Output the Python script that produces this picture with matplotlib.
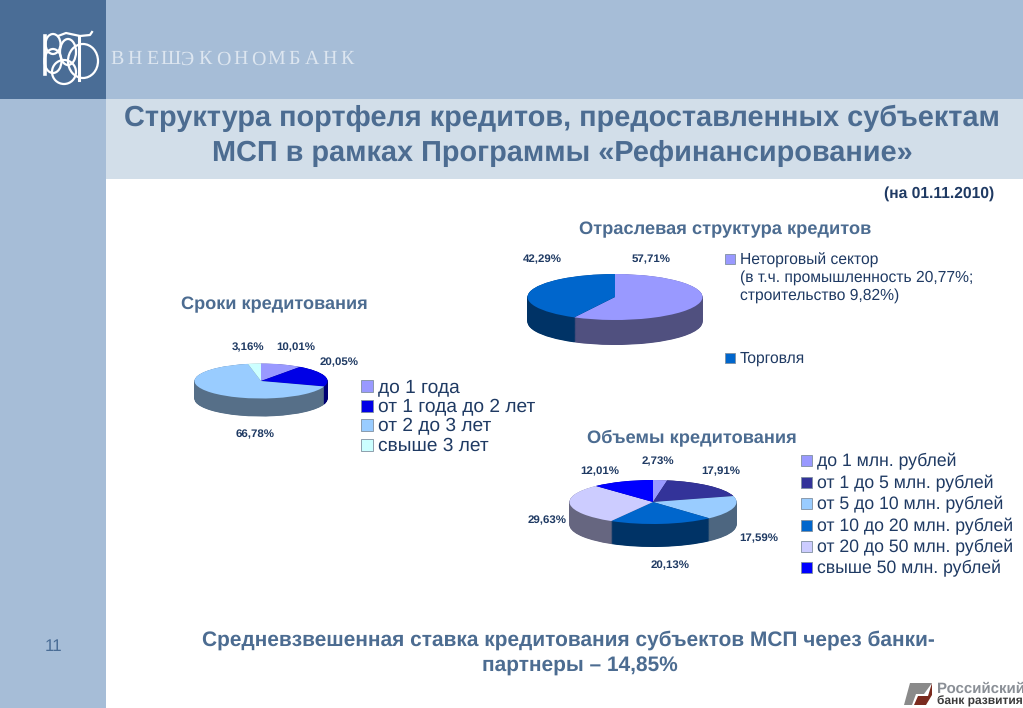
import numpy as np
import matplotlib
matplotlib.use('Agg')
from matplotlib import pyplot as plt
from matplotlib.patches import Rectangle, Ellipse, Polygon

plt.rcParams['font.family'] = ['Liberation Sans', 'DejaVu Sans']
plt.rcParams['text.hinting'] = 'no_hinting'

W = 1023
H = 708
PX = 0.72  # font px -> pt at dpi 100

# data
term_labels = ['до 1 года', 'от 1 года до 2 лет', 'от 2 до 3 лет', 'свыше 3 лет']
term_values = [10.01, 20.05, 66.78, 3.16]
term_text = ['10,01%', '20,05%', '66,78%', '3,16%']
term_top = ['#9999FF', '#0000E6', '#99CCFF', '#CCFFFF']
term_side = ['#4D4D80', '#000073', '#566F88', '#668080']

sector_labels = ['Неторговый сектор', 'Торговля']
sector_note = ['(в т.ч. промышленность 20,77%;', 'строительство 9,82%)']
sector_values = [57.71, 42.29]
sector_text = ['57,71%', '42,29%']
sector_top = ['#9999FF', '#0066CC']
sector_side = ['#50507F', '#003366']

size_labels = ['до 1 млн. рублей', 'от 1 до 5 млн. рублей', 'от 5 до 10 млн. рублей',
               'от 10 до 20 млн. рублей', 'от 20 до 50 млн. рублей', 'свыше 50 млн. рублей']
size_values = [2.73, 17.91, 17.59, 20.13, 29.63, 12.01]
size_text = ['2,73%', '17,91%', '17,59%', '20,13%', '29,63%', '12,01%']
size_top = ['#9999FF', '#333399', '#99CCFF', '#0066CC', '#CCCCFF', '#0000FF']
size_side = ['#4D4D80', '#1A1A4D', '#4D6680', '#003366', '#666680', '#000080']

BAND = '#A6BDD7'
DARK = '#4A6D96'
TITLE = '#4C6C91'
LABEL = '#1F3A63'
LEG = '#1F3A63'

fig = plt.figure(figsize=(W / 100, H / 100), dpi=100, facecolor='white')
bg = fig.add_axes([0, 0, 1, 1])
bg.set_xlim(0, W)
bg.set_ylim(H, 0)
bg.axis('off')

bg.add_patch(Rectangle((0, 0), 106, H, color=BAND, lw=0))
bg.add_patch(Rectangle((0, 0), W, 99, color=BAND, lw=0))
bg.add_patch(Rectangle((0, 0), 106, 99, color=DARK, lw=0))
bg.add_patch(Rectangle((106, 99), W - 106, 80, color='#D2DEE9', lw=0))


def label(x, y, s, px, color=LABEL, weight='normal', ha='left', **kw):
    bg.text(x, y + 1.5, s, fontsize=px * PX, color=color, fontweight=weight, ha=ha, va='center', **kw)


def pie3d(cx, cy, rx, ry, depth, values, top, side):
    # flat axes, so the round pie comes out as an ellipse
    ax = fig.add_axes([(cx - rx) / W, 1 - (cy + ry + depth) / H, 2 * rx / W, (2 * ry + depth) / H],
                      zorder=2)
    d = depth / ry
    for t in np.arange(d, 0, -0.02):
        ax.pie(values, colors=side, startangle=90, counterclock=False, center=(0, -t),
               wedgeprops={'linewidth': 0})
    ax.pie(values, colors=top, startangle=90, counterclock=False,
           wedgeprops={'linewidth': 0.3, 'edgecolor': 'none'})
    ax.set_aspect('auto')
    ax.set_xlim(-1, 1)
    ax.set_ylim(-1 - d, 1)
    ax.patch.set_alpha(0)


def legend(x, ys, labels, px, box):
    for y, s, c in zip(ys, labels[0], labels[1]):
        if c is not None:
            bg.add_patch(Rectangle((x, y - box / 2), box, box, facecolor=c, edgecolor='#8090A0', lw=0.6))
        label(x + box + 5, y - 0.5, s, px, color=LEG)


# header, the monogram is drawn as rings and strokes
for (x, y, w, h) in [(53, 44, 15, 20), (53, 61, 17, 24), (64, 72, 24, 24), (83, 61, 30, 34), (68, 52, 16, 26)]:
    bg.add_patch(Ellipse((x, y), w, h, fill=False, ec='white', lw=1.6))
bg.plot([45, 45], [36, 74], color='white', lw=2.6)
bg.plot([79, 79], [36, 80], color='white', lw=2.2)
bg.plot([58, 66, 80, 90, 92], [36, 33, 36, 35, 32], color='white', lw=1.6)
for i, s in enumerate('ВНЕШЭКОНОМБАНК'):
    label(117 + i * 17.7, 58, s, 20, color='#DDE6F0', ha='center', family='Liberation Serif')

label(562, 117, 'Структура портфеля кредитов, предоставленных субъектам', 28.9, color=TITLE, weight='bold', ha='center')
label(562, 152, 'МСП в рамках Программы «Рефинансирование»', 28.9, color=TITLE, weight='bold', ha='center')
label(994, 192, '(на 01.11.2010)', 15.6, color=LEG, weight='bold', ha='right')

# term pie
label(274, 303, 'Сроки кредитования', 18.2, color=TITLE, weight='bold', ha='center')
pie3d(261, 381, 66.5, 17.5, 18, term_values, term_top, term_side)
for (x, y), s in zip([(296, 346), (339, 361), (255, 433), (248, 346)], term_text):
    label(x, y, s, 11.5, weight='bold', ha='center')
legend(361, [386, 406, 425, 445], (term_labels, term_top), 19.2, 12)

# sector pie
label(725, 228, 'Отраслевая структура кредитов', 18.3, color=TITLE, weight='bold', ha='center')
pie3d(615, 297, 87.5, 23, 25, sector_values, sector_top, sector_side)
for (x, y), s in zip([(651, 258), (542, 258)], sector_text):
    label(x, y, s, 11.5, weight='bold', ha='center')
legend(725, [259, 277, 295, 358],
       ([sector_labels[0]] + sector_note + [sector_labels[1]],
        [sector_top[0], None, None, sector_top[1]]), 15.6, 10)

# size pie
label(692, 436, 'Объемы кредитования', 18.3, color=TITLE, weight='bold', ha='center')
pie3d(653, 502, 83.5, 22, 23, size_values, size_top, size_side)
for (x, y), s in zip([(658, 460), (721, 470), (759, 537), (670, 564), (547, 519), (600, 470)], size_text):
    label(x, y, s, 11.5, weight='bold', ha='center')
legend(801, [460, 482, 503, 525, 546, 567], (size_labels, size_top), 17.6, 11)

# footer
label(54, 645, '11', 17, color=DARK, ha='center')
label(568, 639, 'Средневзвешенная ставка кредитования субъектов МСП через банки-', 20.9, color=TITLE, weight='bold', ha='center')
label(580, 665, 'партнеры – 14,85%', 20.9, color=TITLE, weight='bold', ha='center')

bg.add_patch(Polygon([(910, 683), (932, 683), (924, 694), (916, 694), (912, 705), (904, 705)], color='#8A8A8A', lw=0))
bg.add_patch(Polygon([(932, 683), (928, 696), (918, 696), (914, 705), (926, 705), (932, 695)], color='#7A2A1E', lw=0))
label(937, 687, 'Российский', 15, color='#8A8F96', weight='bold')
label(937, 700, 'банк развития', 12, color='#3A3A3A', weight='bold')

fig.savefig('out.png', dpi=100)
